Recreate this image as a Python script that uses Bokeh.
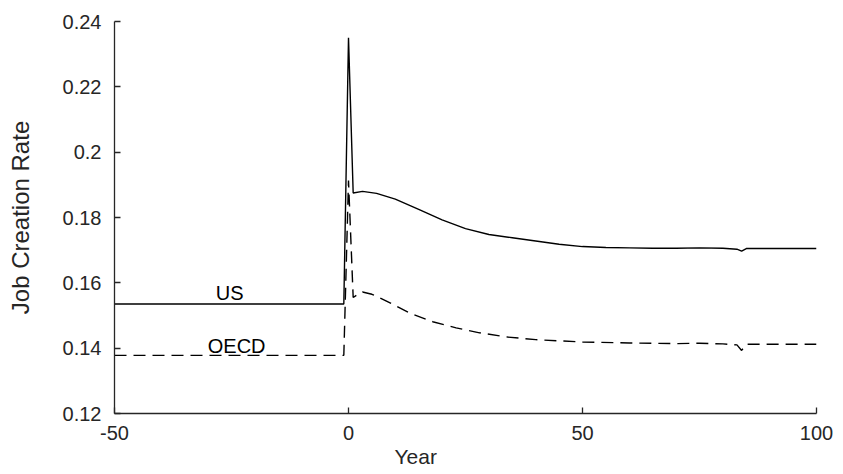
from bokeh.plotting import figure
from bokeh.models import Range1d, FixedTicker, Label, Title
from bokeh.embed import file_html
from bokeh.resources import INLINE

# ---- data ----
years_us = [-50, -1, 0, 1, 3, 6, 10, 15, 20, 25, 30, 35, 40, 45, 50, 55, 60, 65, 70, 75, 80, 83, 84, 85, 90, 95, 100]
rate_us = [0.1535, 0.1535, 0.2350, 0.1875, 0.1880, 0.1874, 0.1856, 0.1825, 0.1793, 0.1766, 0.1748,
           0.1738, 0.1728, 0.1718, 0.1711, 0.1708, 0.1707, 0.1706, 0.1706, 0.1707, 0.1706, 0.1703,
           0.1697, 0.1705, 0.1705, 0.1705, 0.1705]

years_oecd = [-50, -1, 0, 1, 2, 3, 5, 8, 13, 18, 23, 28, 34, 40, 50, 60, 70, 75, 80, 83, 84, 85, 90, 100]
rate_oecd = [0.1378, 0.1378, 0.1913, 0.1555, 0.1565, 0.1572, 0.1565, 0.1545, 0.1508, 0.1481, 0.1462,
             0.1447, 0.1434, 0.1426, 0.1419, 0.1416, 0.1414, 0.1415, 0.1413, 0.1410, 0.1393, 0.1412,
             0.1412, 0.1412]

x_ticks = [-50, 0, 50, 100]
x_tick_labels = ["-50", "0", "50", "100"]
y_ticks = [0.12, 0.14, 0.16, 0.18, 0.2, 0.22, 0.24]
y_tick_labels = ["0.12", "0.14", "0.16", "0.18", "0.2", "0.22", "0.24"]

series_names = ["US", "OECD"]
series_label_x = [-25.4, -23.9]
series_label_y = [0.1570, 0.1408]

x_label = "Year"
y_label = "Job Creation Rate"

# ---- figure ----
AX = "#262626"
FONT = "Liberation Sans"

p = figure(width=835, height=470, output_backend="svg", toolbar_location=None,
           x_range=Range1d(-50, 100), y_range=Range1d(0.12, 0.24),
           min_border_left=114, min_border_right=19, min_border_top=21, min_border_bottom=57)
p.outline_line_color = None
p.xgrid.visible = False
p.ygrid.visible = False
p.background_fill_color = "white"
p.border_fill_color = "white"

p.line(years_us, rate_us, line_color="black", line_width=1.4)
p.line(years_oecd, rate_oecd, line_color="black", line_width=1.4, line_dash="12 7")

for name, lx, ly in zip(series_names, series_label_x, series_label_y):
    p.add_layout(Label(x=lx, y=ly, text=name, text_align="center", text_baseline="middle",
                       text_font=FONT, text_font_size="20px", text_color="black"))

for ax in (p.xaxis[0], p.yaxis[0]):
    ax.axis_line_color = AX
    ax.axis_line_width = 1.3
    ax.major_tick_line_color = AX
    ax.major_tick_line_width = 1.3
    ax.major_tick_in = 6
    ax.major_tick_out = 0
    ax.minor_tick_line_color = None
    ax.major_label_text_font = FONT
    ax.major_label_text_font_size = "20px"
    ax.major_label_text_color = AX

p.xaxis.major_label_standoff = 12
p.yaxis.major_label_standoff = 13
p.xaxis.ticker = FixedTicker(ticks=x_ticks)
p.yaxis.ticker = FixedTicker(ticks=y_ticks)
p.xaxis.major_label_overrides = {t: s for t, s in zip(x_ticks, x_tick_labels)}
p.yaxis.major_label_overrides = {t: s for t, s in zip(y_ticks, y_tick_labels)}

p.yaxis.axis_label = y_label
p.yaxis.axis_label_text_font = FONT
p.yaxis.axis_label_text_font_size = "24px"
p.yaxis.axis_label_text_font_style = "normal"
p.yaxis.axis_label_text_color = AX
p.yaxis.axis_label_standoff = 26

p.add_layout(Title(text=x_label, align="left", offset=280, standoff=0,
                   text_font=FONT, text_font_size="21px", text_font_style="normal",
                   text_color=AX), "below")

open("out.html", "w").write(file_html(p, INLINE))
